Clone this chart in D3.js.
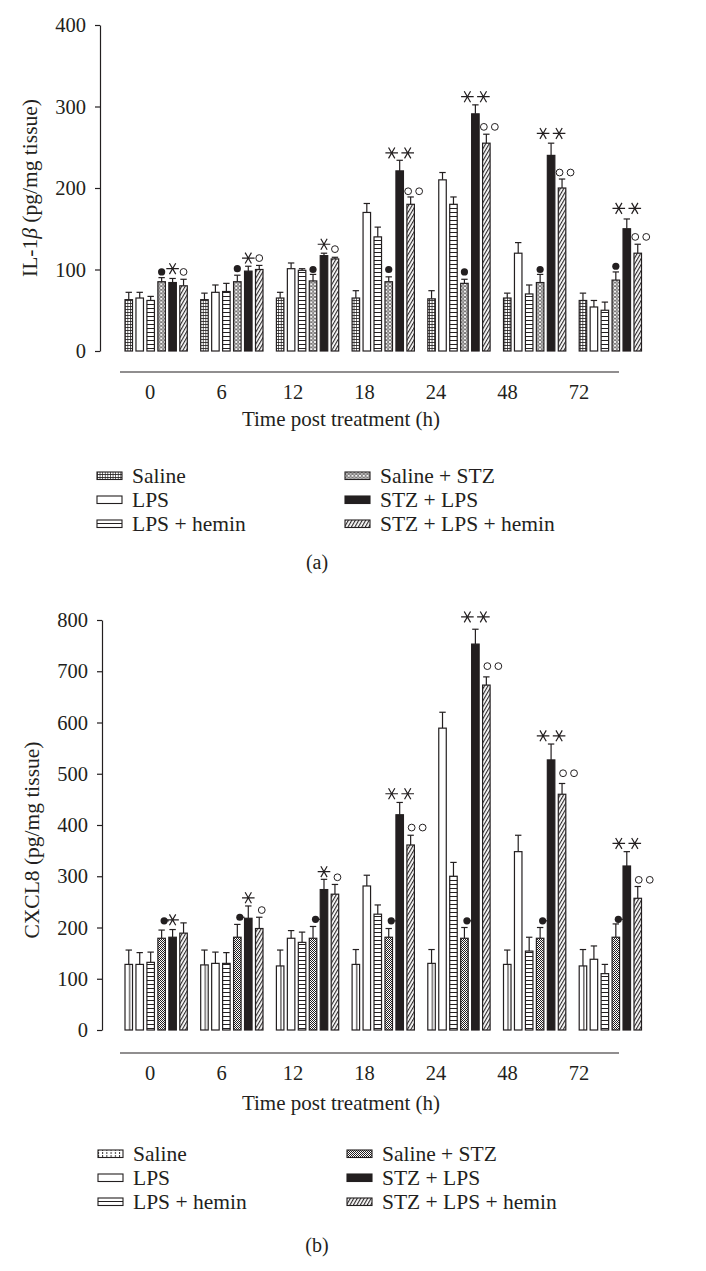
<!DOCTYPE html>
<html>
<head>
<meta charset="utf-8">
<script src="https://cdn.jsdelivr.net/npm/d3@7"></script>
<style>
  body { margin: 0; background: #fff; }
  svg text { font-family: "Liberation Serif", "Times New Roman", serif; fill: #231f20; }
</style>
</head>
<body>
<div id="chart"></div>
<script>
// Data
const times = ["0", "6", "12", "18", "24", "48", "72"];
const series = ["Saline", "LPS", "LPS + hemin", "Saline + STZ", "STZ + LPS", "STZ + LPS + hemin"];

// (a) IL-1beta, means and error (SD) per series
const salineA = [63, 63, 65, 65, 64, 65, 62];
const lpsA = [65, 72, 101, 170, 210, 120, 54];
const lpsHeminA = [62, 73, 99, 140, 180, 70, 50];
const salineStzA = [85, 85, 86, 85, 83, 84, 87];
const stzLpsA = [84, 98, 117, 221, 291, 240, 150];
const stzLpsHeminA = [80, 100, 113, 180, 255, 200, 120];
const salineErrA = [9, 8, 7, 9, 10, 6, 9];
const lpsErrA = [7, 9, 7, 11, 9, 13, 8];
const lpsHeminErrA = [5, 10, 2, 12, 9, 11, 10];
const salineStzErrA = [5, 8, 8, 6, 5, 10, 10];
const stzLpsErrA = [5, 6, 3, 13, 11, 15, 12];
const stzLpsHeminErrA = [8, 5, 2, 9, 11, 11, 11];
// significance marks (value at which the mark sits, and how many)
const dotA = [97, 101, 100, 100, 97, 100, 104];
const starA = [101, 114, 131, 243, 312, 267, 175];
const starCountA = [1, 1, 1, 2, 2, 2, 2];
const circA = [97, 114, 125, 196, 275, 219, 140];
const circCountA = [1, 1, 1, 2, 2, 2, 2];
const ticksA = [0, 100, 200, 300, 400];

// (b) CXCL8
const salineB = [128, 127, 125, 128, 130, 128, 125];
const lpsB = [128, 130, 179, 281, 589, 348, 138];
const lpsHeminB = [132, 130, 171, 226, 300, 154, 110];
const salineStzB = [179, 181, 179, 181, 179, 179, 181];
const stzLpsB = [181, 218, 274, 420, 753, 527, 320];
const stzLpsHeminB = [189, 198, 265, 361, 673, 460, 257];
const salineErrB = [28, 29, 31, 29, 27, 28, 32];
const lpsErrB = [23, 22, 15, 21, 31, 32, 26];
const lpsHeminErrB = [20, 21, 20, 18, 27, 27, 18];
const salineStzErrB = [16, 25, 23, 17, 21, 21, 26];
const stzLpsErrB = [15, 24, 20, 24, 29, 31, 28];
const stzLpsHeminErrB = [20, 22, 19, 19, 16, 21, 23];
const dotB = [213, 220, 216, 213, 213, 213, 216];
const starB = [215, 258, 309, 461, 806, 574, 364];
const starCountB = [1, 1, 1, 2, 2, 2, 2];
const circB = [0, 234, 298, 395, 710, 501, 293];
const circCountB = [0, 1, 1, 2, 2, 2, 2];
const ticksB = [0, 100, 200, 300, 400, 500, 600, 700, 800];

const ink = "#231f20";
const serif = '"Liberation Serif", "Times New Roman", serif';

const svg = d3.select("#chart").append("svg")
    .attr("width", 706)
    .attr("height", 1271);

const defs = svg.append("defs");

// fill patterns
function pattern(id, w, h, draw, transform) {
    const p = defs.append("pattern")
        .attr("id", id)
        .attr("patternUnits", "userSpaceOnUse")
        .attr("width", w)
        .attr("height", h);
    if (transform) p.attr("patternTransform", transform);
    p.append("rect").attr("width", w).attr("height", h).attr("fill", "#fff");
    draw(p);
}
pattern("gridA", 2.6, 3, p => p.append("path").attr("d", "M0.4,0V3M0,0.5H2.6")
    .attr("stroke", ink).attr("stroke-width", 0.8));
pattern("chainA", 3.75, 3.6, p => {
    p.append("ellipse").attr("cx", 1.875).attr("cy", 1.8).attr("rx", 1.35).attr("ry", 1.25)
        .attr("fill", "none").attr("stroke", ink).attr("stroke-width", 0.7);
});
// legend version of the (b) saline fill: dotted vertical lines
pattern("vlineLeg", 4.2, 3, p => p.append("path").attr("d", "M0.5,0V2")
    .attr("stroke", ink).attr("stroke-width", 0.9));
pattern("checkB", 2, 2, p => {
    p.append("rect").attr("width", 1).attr("height", 1).attr("fill", ink);
    p.append("rect").attr("x", 1).attr("y", 1).attr("width", 1).attr("height", 1).attr("fill", ink);
});
pattern("hline", 10, 4, p => p.append("path").attr("d", "M0,0.5H10")
    .attr("stroke", ink).attr("stroke-width", 1));
pattern("diag", 3, 10, p => p.append("path").attr("d", "M0.6,0V10")
    .attr("stroke", ink).attr("stroke-width", 1.1), "rotate(30)");

// (b) saline in the bars: one line down each bar, so the tile follows the bar box
const vb = defs.append("pattern")
    .attr("id", "vlineB")
    .attr("patternUnits", "objectBoundingBox")
    .attr("width", 1).attr("height", 1);
vb.append("rect").attr("width", 20).attr("height", 2000).attr("fill", "#fff");
vb.append("path").attr("d", "M4.6,0V2000").attr("stroke", ink).attr("stroke-width", 1);

const xGroup = d3.scaleBand().domain(times).range([125, 641.5]).paddingInner(0.177);
const xBar = d3.scaleBand().domain(series).range([0, xGroup.bandwidth()]).paddingInner(0.315);
const xLabel = d3.scalePoint().domain(times).range([150, 579]);

function asterisk(r) {
    let d = "";
    [0, 60, 120].forEach(a => {
        const dx = r * Math.cos(a * Math.PI / 180), dy = r * Math.sin(a * Math.PI / 180);
        d += `M${-dx},${-dy}L${dx},${dy}`;
    });
    return d;
}

function drawPanel(cfg) {
    const g = svg.append("g");
    const y = d3.scaleLinear().domain([0, cfg.max]).range(cfg.yRange);

    // y axis
    const ax = g.append("g")
        .attr("transform", `translate(${cfg.axisX},0)`)
        .call(d3.axisLeft(y).tickValues(cfg.ticks).tickSize(5).tickSizeOuter(0).tickPadding(9));
    ax.select(".domain").attr("stroke", ink).attr("stroke-width", 1.2);
    ax.selectAll(".tick line").attr("stroke", ink).attr("stroke-width", 1.2);
    ax.selectAll(".tick text").style("font-size", "20.5px").attr("fill", ink)
        .style("font-family", serif);

    // y label
    const yl = g.append("text")
        .attr("transform", `translate(${cfg.yLabelPos[0]},${cfg.yLabelPos[1]}) rotate(-90)`)
        .attr("text-anchor", "middle")
        .style("font-family", serif)
        .style("font-size", "21.5px");
    cfg.yLabel.forEach(part => {
        yl.append("tspan").text(part.t).style("font-style", part.italic ? "italic" : "normal");
    });

    // x category axis (offset line with labels)
    g.append("line")
        .attr("x1", 120).attr("x2", 619)
        .attr("y1", cfg.lineY).attr("y2", cfg.lineY)
        .attr("stroke", ink).attr("stroke-width", 1.2);
    g.selectAll("text.xlab")
        .data(times)
        .enter().append("text")
        .attr("class", "xlab")
        .attr("x", d => xLabel(d))
        .attr("y", cfg.lineY + 27)
        .attr("text-anchor", "middle")
        .style("font-family", serif)
        .style("font-size", "20.5px")
        .text(d => d);
    g.append("text")
        .attr("x", 341)
        .attr("y", cfg.titleY)
        .attr("text-anchor", "middle")
        .style("font-family", serif)
        .style("font-size", "21px")
        .text("Time post treatment (h)");

    // bars
    const rows = [];
    times.forEach((t, ti) => {
        series.forEach((s, si) => {
            rows.push({ t, s, si, v: cfg.values[si][ti], e: cfg.errors[si][ti] });
        });
    });
    const bw = xBar.bandwidth();

    const eb = g.selectAll("g.err").data(rows).enter().append("g").attr("class", "err")
        .attr("stroke", ink).attr("stroke-width", 1.2);
    eb.append("line")
        .attr("x1", d => xGroup(d.t) + xBar(d.s) + bw / 2)
        .attr("x2", d => xGroup(d.t) + xBar(d.s) + bw / 2)
        .attr("y1", d => y(d.v))
        .attr("y2", d => y(d.v + d.e));
    eb.append("line")
        .attr("x1", d => xGroup(d.t) + xBar(d.s) + bw / 2 - 3.2)
        .attr("x2", d => xGroup(d.t) + xBar(d.s) + bw / 2 + 3.2)
        .attr("y1", d => y(d.v + d.e))
        .attr("y2", d => y(d.v + d.e));

    g.selectAll("rect.bar").data(rows).enter().append("rect")
        .attr("class", "bar")
        .attr("x", d => xGroup(d.t) + xBar(d.s))
        .attr("y", d => y(d.v))
        .attr("width", bw)
        .attr("height", d => y(0) - y(d.v))
        .attr("fill", d => cfg.fills[d.si])
        .attr("stroke", ink)
        .attr("stroke-width", 1.2);

    // significance marks
    const cx = (t, s) => xGroup(t) + xBar(s) + bw / 2;
    times.forEach((t, ti) => {
        const dx = cx(t, "Saline + STZ") + cfg.dotShift;
        g.append("circle")
            .attr("cx", dx).attr("cy", y(cfg.dots[ti]))
            .attr("r", 3.6).attr("fill", ink);
        if (cfg.dotDash) {
            g.append("line")
                .attr("x1", dx + 3).attr("x2", xGroup(t) + xBar("STZ + LPS"))
                .attr("y1", y(cfg.dots[ti])).attr("y2", y(cfg.dots[ti]))
                .attr("stroke", ink).attr("stroke-width", 1.2);
        }
        const n = cfg.starCount[ti];
        d3.range(n).forEach(k => {
            const off = n === 1 ? 0 : (k === 0 ? -8 : 8);
            g.append("path")
                .attr("d", asterisk(6.3))
                .attr("transform", `translate(${cx(t, "STZ + LPS") + off},${y(cfg.stars[ti])})`)
                .attr("stroke", ink).attr("stroke-width", 1.2).attr("fill", "none");
        });
        const m = cfg.circCount[ti];
        d3.range(m).forEach(k => {
            const base = m === 1 ? cfg.circShift1 : cfg.circShift2;
            g.append("circle")
                .attr("cx", cx(t, "STZ + LPS + hemin") + base + k * 11)
                .attr("cy", y(cfg.circs[ti]))
                .attr("r", 3.4)
                .attr("fill", "#fff").attr("stroke", ink).attr("stroke-width", 1);
        });
    });

    // legend
    const lg = g.selectAll("g.leg").data(series).enter().append("g").attr("class", "leg")
        .attr("transform", (d, i) => `translate(${i < 3 ? cfg.legendX[0] : cfg.legendX[1]},${cfg.legendY + (i % 3) * 24})`);
    lg.append("rect")
        .attr("x", 0).attr("y", -11)
        .attr("width", 25).attr("height", 7.5)
        .attr("fill", (d, i) => cfg.legendFills[i])
        .attr("stroke", ink).attr("stroke-width", 1.1);
    lg.append("text")
        .attr("x", 35).attr("y", 0)
        .style("font-family", serif)
        .style("font-size", "21.5px")
        .text(d => d);

    g.append("text")
        .attr("x", 317).attr("y", cfg.captionY)
        .attr("text-anchor", "middle")
        .style("font-family", serif)
        .style("font-size", "20px")
        .text(cfg.caption);
}

const fillsA = ["url(#gridA)", "#fff", "url(#hline)", "url(#chainA)", ink, "url(#diag)"];
const fillsB = ["url(#vlineB)", "#fff", "url(#hline)", "url(#checkB)", ink, "url(#diag)"];

drawPanel({
    max: 400, yRange: [351, 25], ticks: ticksA, axisX: 100,
    yLabel: [{ t: "IL-1" }, { t: "β", italic: true }, { t: " (pg/mg tissue)" }],
    yLabelPos: [37, 188],
    lineY: 372, titleY: 426,
    values: [salineA, lpsA, lpsHeminA, salineStzA, stzLpsA, stzLpsHeminA],
    errors: [salineErrA, lpsErrA, lpsHeminErrA, salineStzErrA, stzLpsErrA, stzLpsHeminErrA],
    fills: fillsA, legendFills: fillsA,
    dots: dotA, dotShift: 0, dotDash: false,
    stars: starA, starCount: starCountA,
    circs: circA, circCount: circCountA, circShift1: 0, circShift2: -2.5,
    legendX: [97, 345], legendY: 483,
    caption: "(a)", captionY: 569
});

drawPanel({
    max: 800, yRange: [1030, 620], ticks: ticksB, axisX: 102,
    yLabel: [{ t: "CXCL8 (pg/mg tissue)" }],
    yLabelPos: [39, 840],
    lineY: 1053, titleY: 1110,
    values: [salineB, lpsB, lpsHeminB, salineStzB, stzLpsB, stzLpsHeminB],
    errors: [salineErrB, lpsErrB, lpsHeminErrB, salineStzErrB, stzLpsErrB, stzLpsHeminErrB],
    fills: fillsB, legendFills: ["url(#vlineLeg)"].concat(fillsB.slice(1)),
    dots: dotB, dotShift: 2.5, dotDash: true,
    stars: starB, starCount: starCountB,
    circs: circB, circCount: circCountB, circShift1: 2.5, circShift2: 1,
    legendX: [98, 347], legendY: 1161,
    caption: "(b)", captionY: 1252
});
</script>
</body>
</html>
